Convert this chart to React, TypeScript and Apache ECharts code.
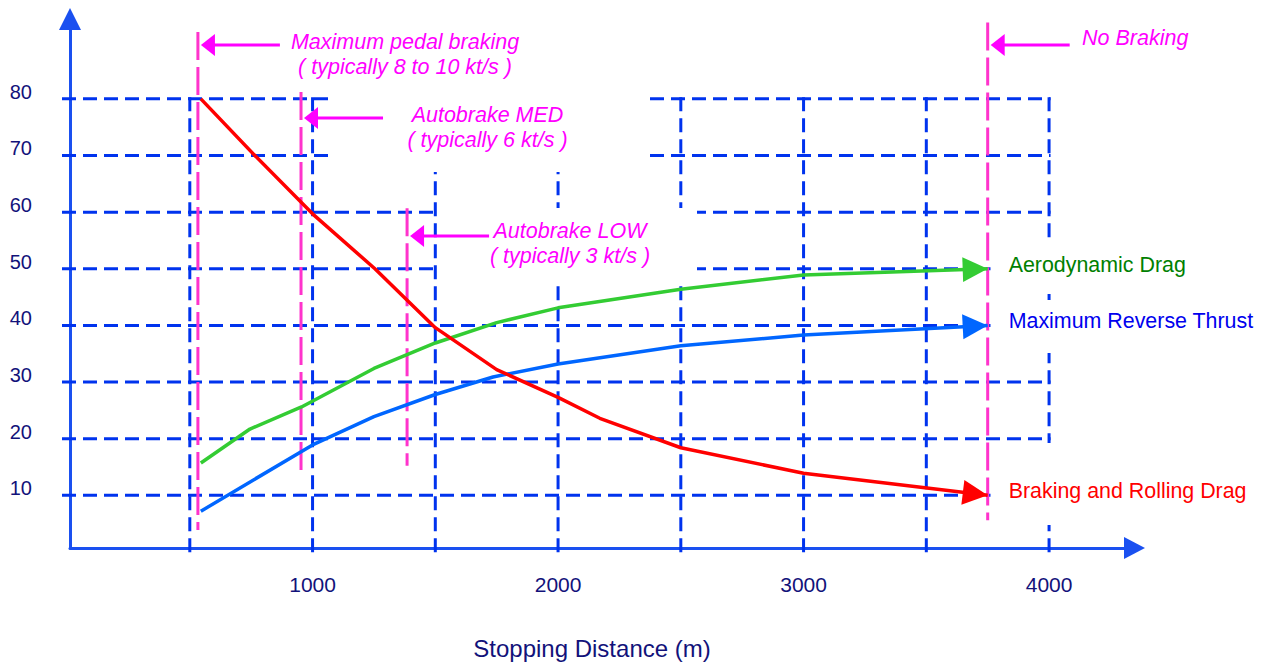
import React, { useEffect, useRef } from "react";
import * as echarts from "echarts";

// ---------- data ----------
const yTicks = [10, 20, 30, 40, 50, 60, 70, 80];
const xGridValues = [500, 1000, 1500, 2000, 2500, 3000, 3500, 4000];
const xLabels = [1000, 2000, 3000, 4000];

const seriesNames = ["Aerodynamic Drag", "Maximum Reverse Thrust", "Braking and Rolling Drag"];
const aeroDrag = [
  [545, 15.7], [745, 21.7], [955, 25.6], [1250, 32.4], [1500, 36.9],
  [1750, 40.5], [2000, 43.1], [2500, 46.4], [3000, 48.9], [3750, 50],
];
const reverseThrust = [
  [545, 7.2], [1000, 18.9], [1250, 23.9], [1500, 27.8], [1735, 30.9],
  [2000, 33.2], [2500, 36.4], [3000, 38.3], [3750, 40],
];
const brakingDrag = [
  [545, 80], [765, 70], [1000, 59.7], [1254, 50], [1500, 39.6], [1750, 32.2],
  [2000, 27.3], [2170, 23.6], [2500, 18.4], [3000, 13.9], [3750, 10],
];

// braking level markers (stopping distance, vertical extent, arrow level)
const markerX = [533, 953, 1385, 3750];
const markerTop = [91.8, 81.2, 60.7, 93.5];
const markerBottom = [3.9, 13.4, 15.2, 5.6];
const markerArrowY = [89.5, 76.6, 55.8, 89.5];
const markerLabels = [
  "Maximum pedal braking\n( typically 8 to 10 kt/s )",
  "Autobrake MED\n( typically 6 kt/s )",
  "Autobrake LOW\n( typically 3 kt/s )",
  "No Braking",
];

const xAxisTitle = "Stopping Distance (m)";

// ---------- styles ----------
const FONT = "'Liberation Sans', Arial, Helvetica, sans-serif";
const GRID_BLUE = "#0033ee";
const AXIS_BLUE = "#1a50f0";
const NAVY = "#12127a";
const MAGENTA = "#ff00ff";
const MARKER_PINK = "#ff33cc";
const lineColors = ["#33cc33", "#0066ff", "#ff0000"];
const labelColors = ["#008000", "#0000ee", "#ff0000"];
const curves = [aeroDrag, reverseThrust, brakingDrag];

const X_MIN = 12;
const Y_MIN = 0.7;

function buildOption() {
  const masks = [
    [330, 95, 313, 77],
    [438, 208, 259, 72],
    [990.5, 240, 70, 54],
    [990.5, 300, 70, 53],
    [990.5, 443, 70, 82],
  ].map(([x, y, w, h]) => ({
    type: "rect",
    z: 1.5,
    silent: true,
    shape: { x, y, width: w, height: h },
    style: { fill: "#ffffff" },
  }));

  const annotationPos = [
    { x: 405, y: 54, align: "center" },
    { x: 487.5, y: 127.5, align: "center" },
    { x: 570, y: 243, align: "center" },
    { x: 1082, y: 38, align: "left" },
  ];

  const annotationTexts = markerLabels.map((t, i) => ({
    type: "text",
    z: 6,
    silent: true,
    x: annotationPos[i].x,
    y: annotationPos[i].y,
    style: {
      text: t,
      fill: MAGENTA,
      fontSize: 21.5,
      fontStyle: "italic",
      fontFamily: FONT,
      lineHeight: 25,
      align: annotationPos[i].align,
      textAlign: annotationPos[i].align,
      verticalAlign: "middle",
      textVerticalAlign: "middle",
    },
  }));

  const title = {
    type: "text",
    z: 6,
    silent: true,
    x: 592,
    y: 648,
    style: {
      text: xAxisTitle,
      fill: NAVY,
      fontSize: 24,
      fontFamily: FONT,
      align: "center",
      textAlign: "center",
      verticalAlign: "middle",
      textVerticalAlign: "middle",
    },
  };

  return {
    animation: false,
    backgroundColor: "#ffffff",
    grid: { left: 70, right: 136.5, top: 19, bottom: 116, containLabel: false },
    xAxis: {
      type: "value",
      min: X_MIN,
      max: 4348,
      splitLine: { show: false },
      axisTick: { show: false },
      axisLine: {
        show: true,
        onZero: false,
        symbol: ["none", "triangle"],
        symbolSize: [22, 21],
        lineStyle: { color: AXIS_BLUE, width: 3 },
      },
      axisLabel: {
        customValues: xLabels,
        formatter: (v: number) => (xLabels.includes(v) ? String(v) : ""),
        color: NAVY,
        fontSize: 21,
        fontFamily: FONT,
        margin: 26,
        lineHeight: 20,
      },
    },
    yAxis: {
      type: "value",
      min: Y_MIN,
      max: 94.1,
      splitNumber: 10,
      splitLine: { show: false },
      axisTick: { show: false },
      axisLine: {
        show: true,
        onZero: false,
        symbol: ["none", "triangle"],
        symbolSize: [22, 22],
        lineStyle: { color: AXIS_BLUE, width: 3 },
      },
      axisLabel: {
        customValues: yTicks,
        formatter: (v: number) => (yTicks.includes(v) ? String(v) : ""),
        color: NAVY,
        fontSize: 20,
        fontFamily: FONT,
        margin: 38,
        verticalAlign: "bottom",
        lineHeight: 14,
      },
    },
    graphic: [...masks, ...annotationTexts, title],
    series: [
      {
        type: "custom",
        name: "hgrid",
        z: 1,
        silent: true,
        data: yTicks.map((v) => [X_MIN, v]),
        encode: { x: 0, y: 1 },
        renderItem: (_p: any, api: any) => {
          const v = api.value(1);
          const l = api.coord([X_MIN, v]);
          const r = api.coord([4000, v]);
          return {
            type: "line",
            shape: { x1: l[0] - 8, y1: l[1], x2: r[0] + 1.5, y2: r[1] },
            style: { stroke: GRID_BLUE, lineWidth: 3, lineDash: [14, 7] },
          };
        },
      },
      {
        type: "custom",
        name: "vgrid",
        z: 1,
        silent: true,
        data: xGridValues.map((v) => [v, 80]),
        encode: { x: 0, y: 1 },
        renderItem: (_p: any, api: any) => {
          const v = api.value(0);
          const t = api.coord([v, 80]);
          const b = api.coord([v, Y_MIN]);
          return {
            type: "line",
            shape: { x1: t[0], y1: t[1] - 1.5, x2: b[0], y2: b[1] + 10 },
            style: { stroke: GRID_BLUE, lineWidth: 3, lineDash: [14, 7] },
          };
        },
      },
      {
        type: "custom",
        name: "markers",
        z: 2,
        silent: true,
        data: markerX.map((x, i) => [x, markerTop[i], markerBottom[i], markerArrowY[i]]),
        encode: { x: 0, y: 1 },
        renderItem: (_p: any, api: any) => {
          const x = api.value(0);
          const top = api.coord([x, api.value(1)]);
          const bot = api.coord([x, api.value(2)]);
          const a = api.coord([x, api.value(3)]);
          return {
            type: "group",
            children: [
              {
                type: "line",
                shape: { x1: top[0], y1: top[1], x2: bot[0], y2: bot[1] },
                style: { stroke: MARKER_PINK, lineWidth: 3, lineDash: [28, 7] },
              },
              {
                type: "line",
                z2: 10,
                shape: { x1: a[0] + 14, y1: a[1], x2: a[0] + 82, y2: a[1] },
                style: { stroke: MAGENTA, lineWidth: 3 },
              },
              {
                type: "polygon",
                z2: 10,
                shape: { points: [[a[0] + 3, a[1]], [a[0] + 17, a[1] - 11], [a[0] + 17, a[1] + 11]] },
                style: { fill: MAGENTA },
              },
            ],
          };
        },
      },
      ...curves.map((d, i) => ({
        type: "line",
        name: seriesNames[i],
        z: 3,
        data: d,
        showSymbol: false,
        symbol: "none",
        lineStyle: { color: lineColors[i], width: 3.5 },
        itemStyle: { color: lineColors[i] },
      })),
      {
        type: "custom",
        name: "ends",
        z: 4,
        silent: true,
        data: curves.map((d, i) => [d[d.length - 1][0], d[d.length - 1][1], i]),
        encode: { x: 0, y: 1 },
        renderItem: (_p: any, api: any) => {
          const i = api.value(2);
          const d = curves[i];
          const tip = api.coord(d[d.length - 1]);
          const prev = api.coord(d[d.length - 2]);
          const dx = tip[0] - prev[0];
          const dy = tip[1] - prev[1];
          const len = Math.hypot(dx, dy);
          const ux = dx / len;
          const uy = dy / len;
          const bx = tip[0] - ux * 25;
          const by = tip[1] - uy * 25;
          const px = -uy * 12.5;
          const py = ux * 12.5;
          return {
            type: "group",
            children: [
              {
                type: "polygon",
                shape: { points: [[tip[0], tip[1]], [bx + px, by + py], [bx - px, by - py]] },
                style: { fill: lineColors[i] },
              },
              {
                type: "text",
                x: tip[0] + 21,
                y: tip[1] - 4,
                style: {
                  text: seriesNames[i],
                  fill: labelColors[i],
                  fontSize: 21.4,
                  fontFamily: FONT,
                  align: "left",
                  textAlign: "left",
                  verticalAlign: "middle",
                  textVerticalAlign: "middle",
                },
              },
            ],
          };
        },
      },
    ],
  };
}

export default function App() {
  const ref = useRef<HTMLDivElement>(null);
  useEffect(() => {
    if (!ref.current) return;
    const chart = echarts.init(ref.current, null, { renderer: "svg" });
    chart.setOption(buildOption() as any);
    return () => {
      chart.dispose();
    };
  }, []);
  return (
    <div
      ref={ref}
      style={{ position: "fixed", left: 0, top: 0, width: 1271, height: 664, background: "#ffffff" }}
    />
  );
}
